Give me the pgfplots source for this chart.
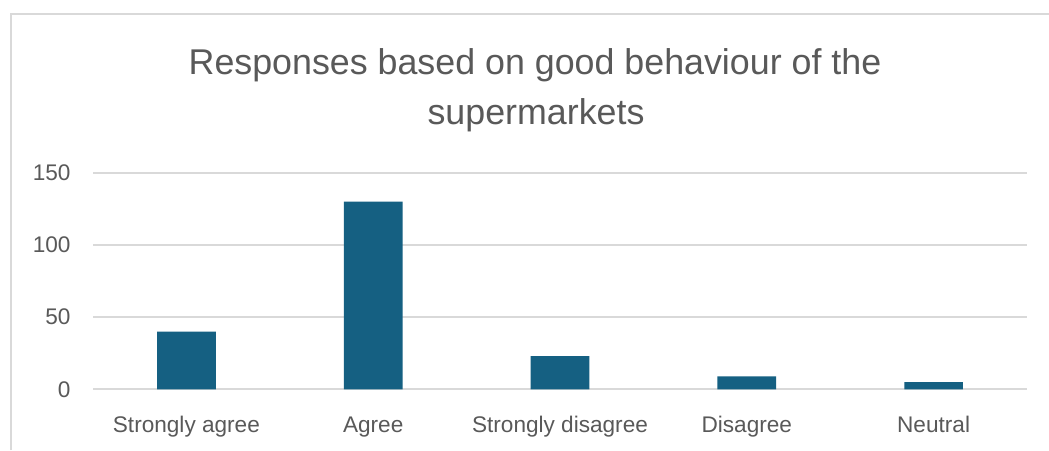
\documentclass[border=0pt]{standalone}
\usepackage{pgfplots}
\pgfplotsset{compat=1.18}
\usepackage{fontspec}
\setmainfont{Liberation Sans}
\definecolor{barcol}{HTML}{156082}
\definecolor{txtcol}{HTML}{595959}
\definecolor{gridcol}{HTML}{D9D9D9}
\begin{document}
\begin{tikzpicture}
\path[use as bounding box] (0,0) rectangle (1049pt,450pt);
\fill[white] (0,0) rectangle (1049pt,450pt);
\draw[gridcol, line width=1.5pt] (11pt,0) -- (11pt,436pt) -- (1049pt,436pt);
\node[anchor=base, text=txtcol, font=\fontsize{35.8}{42}\selectfont, inner sep=0pt] at (535pt,375.7pt) {Responses based on good behaviour of the};
\node[anchor=base, text=txtcol, font=\fontsize{35.8}{42}\selectfont, inner sep=0pt] at (536pt,325.5pt) {supermarkets};
\begin{axis}[
  at={(93pt,60.7pt)}, anchor=south west,
  scale only axis, width=934pt, height=216.6pt,
  xmin=-0.5, xmax=4.5, ymin=0, ymax=150,
  ybar, bar width=58.7pt,
  axis line style={draw=none},
  major tick length=0pt,
  xtick=data,
  xticklabels={Strongly agree, Agree, Strongly disagree, Disagree, Neutral},
  ytick={0,50,100,150},
  ymajorgrids,
  grid style={gridcol, line width=1.8pt},
  /pgf/number format/assume math mode=true,
  xticklabel style={anchor=base, yshift=-43.4pt, inner sep=0pt, text=txtcol, font=\fontsize{22.6}{26}\selectfont},
  yticklabel style={anchor=east, xshift=-22.3pt, inner sep=0pt, text=txtcol, font=\fontsize{22.6}{26}\selectfont},
]
\addplot[fill=barcol, draw=none] coordinates {(0,40) (1,130) (2,23) (3,9) (4,5)};
\end{axis}
\end{tikzpicture}
\end{document}
